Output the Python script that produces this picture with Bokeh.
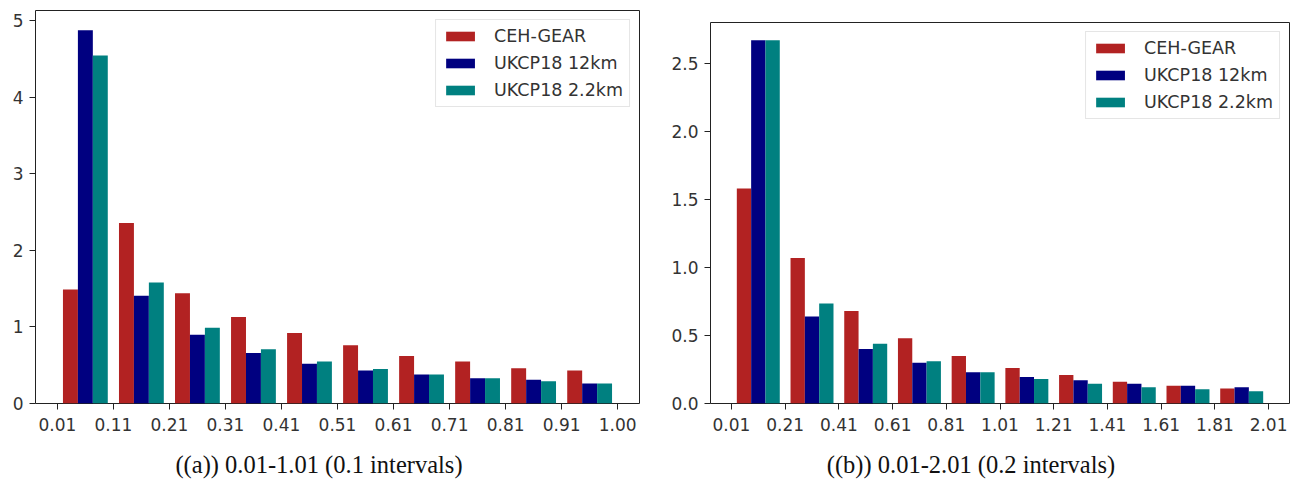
from bokeh.plotting import figure
from bokeh.models import FixedTicker, Legend, LegendItem, Range1d, Div
from bokeh.layouts import row, column
from bokeh.embed import file_html
from bokeh.resources import INLINE

series_names = ["CEH-GEAR", "UKCP18 12km", "UKCP18 2.2km"]
colors = ["#b22222", "#000080", "#008080"]

# panel (a): 0.01-1.01, 0.1 intervals
edges_a = [0.01, 0.11, 0.21, 0.31, 0.41, 0.51, 0.61, 0.71, 0.81, 0.91, 1.01]
xlabels_a = ["0.01", "0.11", "0.21", "0.31", "0.41", "0.51", "0.61", "0.71", "0.81", "0.91", "1.00"]
ceh_a = [1.49, 2.36, 1.44, 1.13, 0.92, 0.76, 0.62, 0.55, 0.46, 0.43]
uk12_a = [4.88, 1.41, 0.90, 0.66, 0.52, 0.43, 0.38, 0.33, 0.31, 0.26]
uk22_a = [4.55, 1.58, 0.99, 0.71, 0.55, 0.45, 0.38, 0.33, 0.29, 0.26]
yticks_a = [0, 1, 2, 3, 4, 5]
ylabels_a = ["0", "1", "2", "3", "4", "5"]
caption_a = "((a)) 0.01-1.01 (0.1 intervals)"

# panel (b): 0.01-2.01, 0.2 intervals
edges_b = [0.01, 0.21, 0.41, 0.61, 0.81, 1.01, 1.21, 1.41, 1.61, 1.81, 2.01]
xlabels_b = ["0.01", "0.21", "0.41", "0.61", "0.81", "1.01", "1.21", "1.41", "1.61", "1.81", "2.01"]
ceh_b = [1.58, 1.07, 0.68, 0.48, 0.35, 0.26, 0.21, 0.16, 0.13, 0.11]
uk12_b = [2.67, 0.64, 0.40, 0.30, 0.23, 0.195, 0.17, 0.145, 0.13, 0.12]
uk22_b = [2.67, 0.735, 0.44, 0.31, 0.23, 0.18, 0.145, 0.12, 0.105, 0.09]
yticks_b = [0.0, 0.5, 1.0, 1.5, 2.0, 2.5]
ylabels_b = ["0.0", "0.5", "1.0", "1.5", "2.0", "2.5"]
caption_b = "((b)) 0.01-2.01 (0.2 intervals)"

FONT = "DejaVu Sans"
TXT = "#333333"


def make_panel(edges, xlabels, series, yticks, ylabels, width, height,
               mb_left, mb_right, mb_top, mb_bottom, ytop, top_margin):
    lo = edges[0] + 0.1 * (edges[1] - edges[0])
    hi = edges[-1] - 0.1 * (edges[1] - edges[0])
    pad = 0.05 * (hi - lo)
    p = figure(width=width, height=height, output_backend="svg", toolbar_location=None,
               title=None,
               x_range=Range1d(lo - pad, hi + pad), y_range=Range1d(0, ytop),
               min_border_left=mb_left, min_border_right=mb_right,
               min_border_top=mb_top, min_border_bottom=mb_bottom,
               margin=(top_margin, 0, 0, 0))
    p.grid.visible = False
    p.outline_line_color = "#222222"
    p.outline_line_width = 1
    p.background_fill_color = "white"
    p.border_fill_color = "white"

    items = []
    nx = len(series)
    for k, (vals, name, col) in enumerate(zip(series, series_names, colors)):
        lefts, rights = [], []
        for i in range(len(vals)):
            w = edges[i + 1] - edges[i]
            l = edges[i] + w * (0.1 + k * 0.8 / nx)
            lefts.append(l)
            rights.append(l + w * 0.8 / nx)
        r = p.quad(left=lefts, right=rights, bottom=0, top=vals,
                   fill_color=col, line_color=None)
        items.append(LegendItem(label=name, renderers=[r]))

    leg = Legend(items=items, location="top_right", margin=9, padding=6,
                 spacing=7, glyph_width=36, glyph_height=12, label_height=20,
                 label_standoff=16, label_text_font=FONT, label_text_font_size="17.5px",
                 label_text_color=TXT, border_line_color="#cccccc",
                 border_line_width=1, background_fill_alpha=0.85)
    p.add_layout(leg)

    for ax in (p.xaxis, p.yaxis):
        ax.axis_line_color = None
        ax.major_tick_line_color = "#222222"
        ax.major_tick_in = 0
        ax.major_tick_out = 6
        ax.minor_tick_line_color = None
        ax.major_label_text_font = FONT
        ax.major_label_text_font_size = "17px"
        ax.major_label_text_color = TXT
    p.xaxis.ticker = FixedTicker(ticks=edges)
    p.xaxis.major_label_overrides = {e: s for e, s in zip(edges, xlabels)}
    p.xaxis.major_label_standoff = 8
    p.yaxis.ticker = FixedTicker(ticks=yticks)
    p.yaxis.major_label_overrides = {t: s for t, s in zip(yticks, ylabels)}
    p.yaxis.major_label_standoff = 6
    return p


p1 = make_panel(edges_a, xlabels_a, [ceh_a, uk12_a, uk22_a], yticks_a, ylabels_a,
                width=668, height=440, mb_left=35, mb_right=29, mb_top=10, mb_bottom=37,
                ytop=5.137, top_margin=0)
p2 = make_panel(edges_b, xlabels_b, [ceh_b, uk12_b, uk22_b], yticks_b, ylabels_b,
                width=626, height=428, mb_left=35, mb_right=5, mb_top=10, mb_bottom=37,
                ytop=2.80, top_margin=12)

cap_style = {"font-family": "Liberation Serif", "font-size": "24.5px", "line-height": "26px",
             "text-align": "center", "color": "#111111", "white-space": "nowrap"}
d1 = Div(text=caption_a, width=638, height=26, styles=cap_style, margin=(12, 0, 0, 0))
d2 = Div(text=caption_b, width=644, height=26, styles=cap_style, margin=(12, 0, 0, 11))

layout = column(row(p1, p2, spacing=0), row(d1, d2, spacing=0), spacing=0)
open("out.html", "w").write(file_html(layout, INLINE))
